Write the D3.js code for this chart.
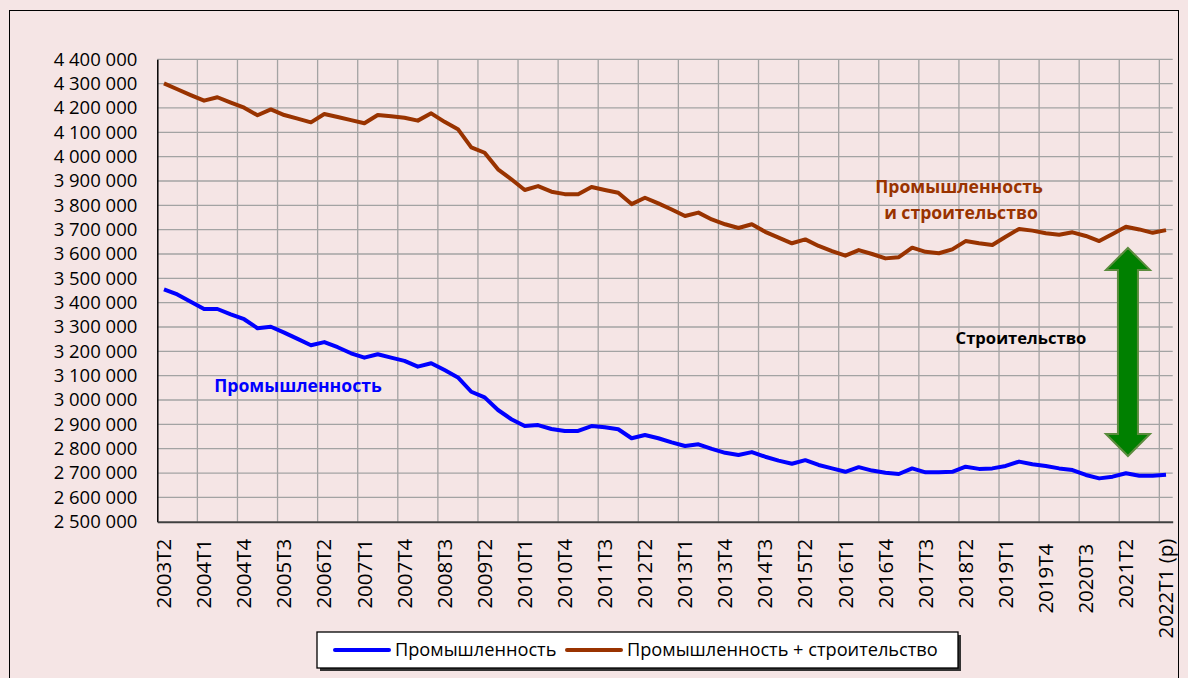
<!DOCTYPE html>
<html>
<head>
<meta charset="utf-8">
<script src="https://cdn.jsdelivr.net/npm/d3@7"></script>
<style>
  body { margin: 0; background: #f5e5e5; }
  svg text { font-family: "Open Sans", "Noto Sans", sans-serif; }
</style>
</head>
<body>
<div id="d3Container"></div>
<script>
// quarters 2003T2 .. 2022T1 (р)
var firstYear = 2003, firstQuarter = 2, nQuarters = 76;
var quarters = d3.range(nQuarters).map(function(i) {
    var q = firstQuarter - 1 + i;
    var label = (firstYear + Math.floor(q / 4)) + "T" + (q % 4 + 1);
    return i === nQuarters - 1 ? label + " (р)" : label;
});

// tick labels shown on the x axis (every third quarter)
var tickLabels = ["2003T2", "2004T1", "2004T4", "2005T3", "2006T2", "2007T1", "2007T4",
    "2008T3", "2009T2", "2010T1", "2010T4", "2011T3", "2012T2", "2013T1", "2013T4",
    "2014T3", "2015T2", "2016T1", "2016T4", "2017T3", "2018T2", "2019T1", "2019T4",
    "2020T3", "2021T2", "2022T1 (р)"];

// Промышленность + строительство
var industryConstruction = [
    4301000, 4277000, 4253000, 4230000, 4244000, 4222000, 4201000, 4170000, 4194000, 4171000,
    4156000, 4141000, 4175000, 4163000, 4150000, 4137000, 4171000, 4166000, 4160000, 4148000,
    4178000, 4143000, 4113000, 4038000, 4016000, 3948000, 3907000, 3863000, 3879000, 3856000,
    3846000, 3845000, 3875000, 3863000, 3852000, 3805000, 3831000, 3808000, 3783000, 3756000,
    3770000, 3742000, 3722000, 3707000, 3722000, 3691000, 3667000, 3644000, 3660000, 3633000,
    3612000, 3593000, 3616000, 3600000, 3582000, 3587000, 3626000, 3609000, 3603000, 3619000,
    3653000, 3644000, 3637000, 3671000, 3703000, 3696000, 3685000, 3679000, 3689000, 3674000,
    3653000, 3682000, 3712000, 3701000, 3687000, 3698000];

// Промышленность
var industry = [
    3455000, 3434000, 3404000, 3374000, 3374000, 3352000, 3332000, 3295000, 3301000, 3277000,
    3251000, 3225000, 3238000, 3217000, 3192000, 3174000, 3188000, 3174000, 3161000, 3137000,
    3151000, 3123000, 3093000, 3034000, 3011000, 2959000, 2921000, 2893000, 2897000, 2881000,
    2873000, 2873000, 2893000, 2888000, 2880000, 2843000, 2856000, 2843000, 2826000, 2811000,
    2818000, 2799000, 2783000, 2774000, 2786000, 2767000, 2751000, 2738000, 2753000, 2733000,
    2719000, 2705000, 2724000, 2710000, 2701000, 2696000, 2719000, 2703000, 2703000, 2705000,
    2726000, 2717000, 2719000, 2729000, 2747000, 2736000, 2729000, 2719000, 2712000, 2692000,
    2678000, 2685000, 2699000, 2689000, 2689000, 2693000];

var yTicks = d3.range(2500000, 4400001, 100000);

// arrow between the two lines ("Строительство")
var arrowQuarter = "2021T2", arrowTop = 3625000, arrowBottom = 2770000;

var width = 1188, height = 678;
var plot = {left: 157.3, right: 1172.7, top: 59.3, bottom: 521.7};

var svg = d3.select("#d3Container").append("svg")
    .attr("width", width)
    .attr("height", height);

// outer frame
svg.append("rect")
    .attr("x", 9.5).attr("y", 10.5)
    .attr("width", 1169).attr("height", 700)
    .attr("fill", "#f5e5e5")
    .attr("stroke", "#000").attr("stroke-width", 1);

var x = d3.scaleBand()
    .domain(quarters)
    .range([plot.left, plot.right])
    .padding(0);

var y = d3.scaleLinear()
    .domain([2500000, 4400000])
    .range([plot.bottom, plot.top]);

var fmt = d3.formatLocale({decimal: ",", thousands: " ", grouping: [3], currency: ["", ""]}).format(",d");

function cx(q) { return x(q) + x.bandwidth() / 2; }

// horizontal grid
svg.append("g")
    .selectAll("line")
    .data(yTicks.slice(1))
    .enter().append("line")
    .attr("x1", plot.left).attr("x2", plot.right)
    .attr("y1", function(d) { return y(d); })
    .attr("y2", function(d) { return y(d); })
    .attr("stroke", "#a3a3a3").attr("stroke-width", 1.3);

// vertical grid, every third quarter
svg.append("g")
    .selectAll("line")
    .data(quarters.filter(function(d, i) { return i % 3 === 0 && i > 0; }))
    .enter().append("line")
    .attr("x1", function(d) { return x(d); })
    .attr("x2", function(d) { return x(d); })
    .attr("y1", plot.top).attr("y2", plot.bottom)
    .attr("stroke", "#a3a3a3").attr("stroke-width", 1.3);

// y axis
var yAxis = svg.append("g")
    .attr("transform", "translate(" + plot.left + ",0)")
    .call(d3.axisLeft(y).tickValues(yTicks).tickFormat(fmt).tickSize(0).tickPadding(20));
yAxis.select(".domain").attr("stroke", "#000").attr("stroke-width", 1.5);
yAxis.selectAll("text")
    .attr("font-size", "18.5px")
    .attr("fill", "#000")
    .style("font-family", "'Open Sans', sans-serif");

// x axis
var xAxis = svg.append("g")
    .attr("transform", "translate(0," + plot.bottom + ")")
    .call(d3.axisBottom(x).tickValues(tickLabels).tickSize(0).tickPadding(0));
xAxis.select(".domain").attr("stroke", "#404040").attr("stroke-width", 2);
xAxis.selectAll("text")
    .attr("font-size", "20.5px")
    .attr("fill", "#000")
    .attr("transform", "rotate(-90)")
    .attr("text-anchor", "end")
    .attr("x", function(d) { return (d === "2019T4" || d === "2020T3") ? -22 : -17; })
    .attr("y", 0)
    .attr("dy", "0.35em")
    .style("font-family", "'Open Sans', sans-serif");

var line = d3.line()
    .x(function(d, i) { return cx(quarters[i]); })
    .y(function(d) { return y(d); });

svg.append("path")
    .datum(industryConstruction)
    .attr("fill", "none")
    .attr("stroke", "#993300")
    .attr("stroke-width", 4)
    .attr("stroke-linejoin", "round")
    .attr("d", line);

svg.append("path")
    .datum(industry)
    .attr("fill", "none")
    .attr("stroke", "#0000ff")
    .attr("stroke-width", 4)
    .attr("stroke-linejoin", "round")
    .attr("d", line);

// double arrow
var ax = cx(arrowQuarter) + 2, at = y(arrowTop), ab = y(arrowBottom);
var hw = 22, sw = 10, hl = 22;
var arrowPts = [
    [ax, at], [ax + hw, at + hl], [ax + sw, at + hl], [ax + sw, ab - hl], [ax + hw, ab - hl],
    [ax, ab], [ax - hw, ab - hl], [ax - sw, ab - hl], [ax - sw, at + hl], [ax - hw, at + hl]
];
svg.append("path")
    .attr("d", "M" + arrowPts.join("L") + "Z")
    .attr("fill", "#008000")
    .attr("stroke", "#5b8c3e")
    .attr("stroke-width", 2);

// annotations
svg.append("text")
    .attr("x", 298).attr("y", 386).attr("dy", "0.35em")
    .attr("text-anchor", "middle")
    .attr("font-size", "17.6px").attr("font-weight", "bold")
    .attr("fill", "#0000ff")
    .text("Промышленность");

var brownNote = svg.append("text")
    .attr("text-anchor", "middle")
    .attr("font-size", "17.6px").attr("font-weight", "bold")
    .attr("fill", "#993300");
brownNote.append("tspan").attr("x", 959).attr("y", 193).text("Промышленность");
brownNote.append("tspan").attr("x", 961).attr("y", 219).text("и строительство");

svg.append("text")
    .attr("x", 1021).attr("y", 338).attr("dy", "0.35em")
    .attr("text-anchor", "middle")
    .attr("font-size", "16.6px").attr("font-weight", "bold")
    .attr("fill", "#000")
    .text("Строительство");

// legend
var legend = svg.append("g");
legend.append("rect")
    .attr("x", 320).attr("y", 635).attr("width", 641).attr("height", 36)
    .attr("fill", "#333");
legend.append("rect")
    .attr("x", 317).attr("y", 632).attr("width", 641).attr("height", 36)
    .attr("fill", "#fff").attr("stroke", "#000").attr("stroke-width", 1.3);

var legendItems = [
    {name: "Промышленность", color: "#0000ff", x: 335},
    {name: "Промышленность + строительство", color: "#993300", x: 567}
];
legendItems.forEach(function(d) {
    legend.append("line")
        .attr("x1", d.x).attr("x2", d.x + 54)
        .attr("y1", 650).attr("y2", 650)
        .attr("stroke", d.color).attr("stroke-width", 4)
        .attr("stroke-linecap", "round");
    legend.append("text")
        .attr("x", d.x + 60).attr("y", 650).attr("dy", "0.35em")
        .attr("font-size", "18.2px")
        .attr("fill", "#000")
        .text(d.name);
});
</script>
</body>
</html>
